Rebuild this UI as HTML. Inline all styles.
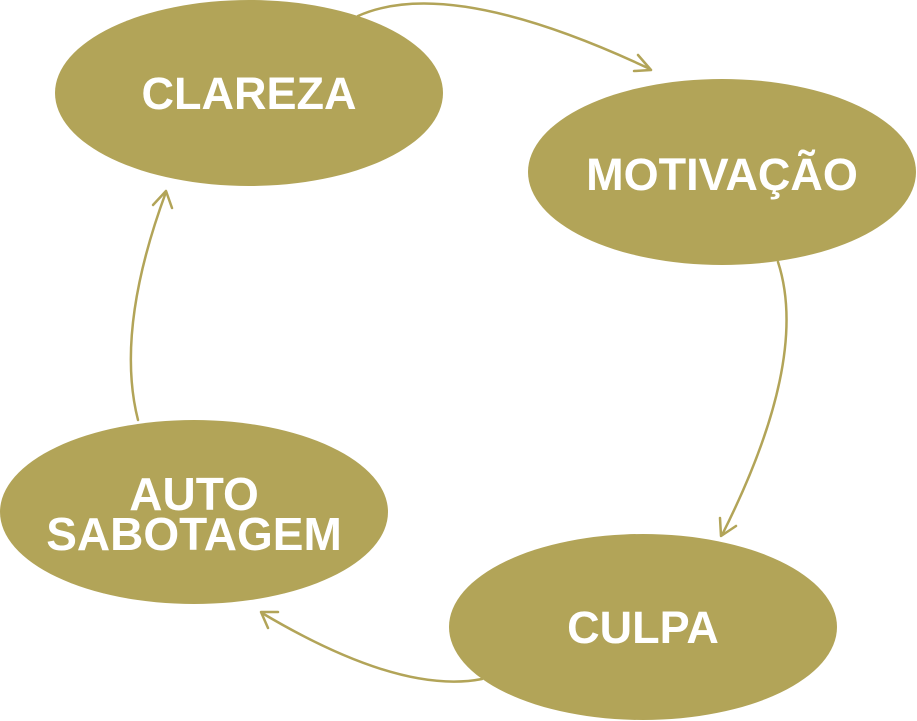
<!DOCTYPE html>
<html><head><style>
html,body{margin:0;padding:0;background:#fff;width:917px;height:721px;overflow:hidden}
text{font-family:"Liberation Sans",sans-serif;font-weight:bold;fill:#fff;letter-spacing:0px}
</style></head><body>
<svg width="917" height="721" viewBox="0 0 917 721" xmlns="http://www.w3.org/2000/svg">
<g fill="none" stroke="#b2a458" stroke-width="2.5" stroke-linecap="round" stroke-linejoin="round">
<path d="M358 16 Q450 -25 650 69"/>
<path d="M638 55 L651 70 L634 71"/>
<path d="M778 262 Q810 360 722 535"/>
<path d="M720 518 L721 536 L736 526"/>
<path d="M482 679 Q400 695 262 613"/>
<path d="M278 612 L261 612 L268 628"/>
<path d="M138 420 Q115 330 166 192"/>
<path d="M153 205 L166 191 L172 208"/>
</g>
<g fill="#b2a458">
<ellipse cx="249" cy="93" rx="194" ry="93"/>
<ellipse cx="722" cy="172" rx="194" ry="93"/>
<ellipse cx="194" cy="512" rx="194" ry="92"/>
<ellipse cx="643" cy="627" rx="194" ry="93"/>
</g>
<text x="249" y="109" font-size="45" text-anchor="middle">CLAREZA</text>
<text x="722" y="190" font-size="45" text-anchor="middle">MOTIVAÇÃO</text>
<text x="194" y="510" font-size="46" text-anchor="middle">AUTO</text>
<text x="194" y="550" font-size="46" text-anchor="middle">SABOTAGEM</text>
<text x="643" y="643" font-size="45" text-anchor="middle">CULPA</text>
</svg>
</body></html>
